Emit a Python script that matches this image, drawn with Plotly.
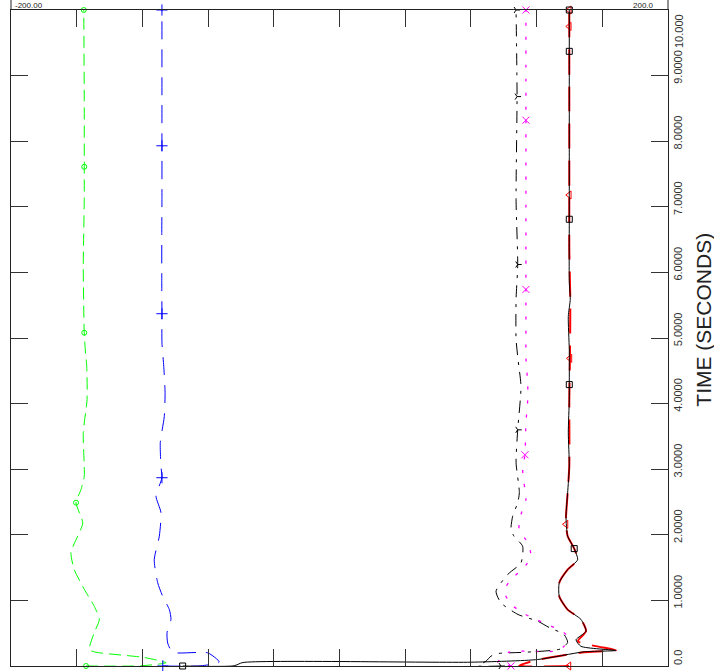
import plotly.graph_objects as go

# ---------------- data (time in seconds, value) ----------------
green_t = [0, 0.003, 0.05, 0.13, 0.21, 0.25, 0.51, 0.71, 0.91, 1.17, 1.47, 1.73, 1.98, 2.18,
           2.49, 2.69, 2.89, 3.04, 3.56, 4.06, 4.57, 4.83, 5.08, 6.09, 7.11, 7.61, 8.64, 10.0]
green_v = [-154.3, -120.9, -105.6, -119.0, -148.3, -152.3, -149.3, -146.2, -149.3, -155.4, -161.5,
           -163.5, -159.4, -156.3, -160.4, -157.4, -155.4, -155.4, -156.0, -153.7, -153.9, -154.8,
           -155.4, -156.0, -155.4, -155.4, -155.4, -155.7]
green_marks = [0, 2.49, 5.08, 7.61, 10.0]

blue_t = [0, 0.003, 0.061, 0.2, 0.21, 0.35, 0.51, 0.71, 0.86, 1.06, 1.27, 1.62, 1.98, 2.34, 2.59,
          2.87, 3.04, 3.41, 3.8, 4.17, 4.57, 4.93, 5.37, 5.85, 6.61, 7.11, 7.93, 8.64, 10.0]
blue_v = [-107.6, -84.3, -73.2, -80.2, -101.6, -104.6, -105.0, -102.6, -103.6, -107.6, -110.7,
          -112.8, -109.7, -108.7, -111.7, -108.1, -108.7, -109.1, -106.7, -106.2, -107.0, -108.1,
          -108.1, -108.2, -108.2, -108.1, -108.1, -108.1, -108.1]
blue_marks = [0, 2.87, 5.37, 7.93, 10.0]

dashdot_t = [0, 0.003, 0.073, 0.15, 0.19, 0.21, 0.262, 0.36, 0.48, 0.587, 0.683, 0.785, 0.963,
             1.14, 1.395, 1.573, 1.826, 1.98, 2.08, 2.28, 2.49, 2.645, 3.1, 3.6, 4.26, 4.67, 4.98,
             5.59, 6.12, 7.11, 8.68, 10.0]
dashdot_v = [98.3, 84.3, 89.2, 92.2, 96.5, 113.5, 134.9, 138.9, 136.7, 127.6, 120.7, 108.7, 98.3,
             95.3, 102.4, 110.5, 111.5, 106.2, 104.4, 105.4, 108.5, 109.5, 107.5, 108.5, 110.5,
             108.7, 107.5, 107.5, 108.5, 107.5, 108.1, 107.5]
dashdot_marks = [0, 3.6, 6.12, 8.68, 10.0]

magenta_t = [0, 0.05, 0.21, 0.226, 0.30, 0.48, 0.61, 0.71, 0.8, 0.94, 1.14, 1.32, 1.5, 1.67, 1.88,
             2.08, 2.31, 2.54, 2.8, 3.0, 3.22, 3.7, 4.06, 4.3, 4.7, 5.0, 5.74, 7.0, 8.32, 10.0]
magenta_v = [104.4, 96.3, 103.2, 130.6, 136.7, 137.9, 128.8, 119.6, 112.3, 104.4, 100.2, 104.4,
             112.3, 116.6, 114.6, 109.3, 110.5, 113.5, 112.3, 111.5, 112.9, 113.5, 114.6, 114.6,
             113.5, 113.5, 113.5, 113.5, 113.5, 113.5]
magenta_marks = [0, 3.22, 5.74, 8.32, 10.0]

red_t = [0, 0.003, 0.088, 0.21, 0.226, 0.241, 0.378, 0.53, 0.71, 0.86, 1.06, 1.27, 1.47, 1.62,
         1.79, 1.98, 2.16, 2.28, 2.64, 3.05, 4.06, 4.69, 5.59, 6.35, 7.18, 8.64, 9.75, 10.0]
red_v = [139.7, 109.3, 119.6, 148.9, 160.2, 168.3, 145.2, 150.1, 147.0, 138.9, 133.8, 133.8, 138.9,
         145.0, 142.9, 138.9, 137.9, 137.9, 138.9, 139.9, 139.9, 140.3, 140.5, 139.9, 139.9, 139.9,
         139.9, 139.9]
red_marks = [0, 2.16, 4.69, 7.18, 9.75, 10.0]

black_t = [0, 0.003, 0.053, 0.058, 0.099, 0.216, 0.236, 0.30, 0.40, 0.53, 0.71, 0.86, 1.06, 1.27,
           1.47, 1.62, 1.79, 1.98, 2.28, 2.64, 3.05, 3.56, 4.06, 4.29, 4.82, 5.33, 5.59, 5.85, 6.81,
           7.87, 9.37, 10.0]
black_v = [-95.5, -64.2, -58.8, 80.1, 120.7, 148.9, 168.3, 147.0, 144.0, 150.1, 147.0, 138.9, 133.8,
           133.8, 138.9, 145.0, 142.9, 138.9, 137.9, 138.9, 139.9, 139.3, 139.9, 139.9, 139.9, 139.3,
           140.5, 139.9, 139.9, 139.9, 139.9, 139.9]
black_marks = [0, 1.79, 4.29, 6.81, 9.37, 10.0]

time_ticks = [0, 1, 2, 3, 4, 5, 6, 7, 8, 9, 10]
time_labels = ["0.0", "1.0000", "2.0000", "3.0000", "4.0000", "5.0000", "6.0000", "7.0000",
               "8.0000", "9.0000", "10.000"]
value_ticks = [-200, -160, -120, -80, -40, 0, 40, 80, 120, 160, 200]

FONT = "Liberation Sans, Arial, Helvetica, sans-serif"

fig = go.Figure()


def add_series(t, v, marks, color, dash, width, symbol, msize):
    fig.add_trace(go.Scatter(x=v, y=t, mode="lines",
                             line=dict(color=color, dash=dash, width=width,
                                       shape="spline", smoothing=0.6),
                             hoverinfo="skip", showlegend=False, cliponaxis=True))
    mx = [vv for tt, vv in zip(t, v) if tt in marks]
    my = [tt for tt in t if tt in marks]
    fig.add_trace(go.Scatter(x=mx, y=my, mode="markers",
                             marker=dict(symbol=symbol, size=msize, color=color,
                                         line=dict(color=color, width=1)),
                             hoverinfo="skip", showlegend=False, cliponaxis=False))


add_series(green_t, green_v, green_marks, "#00ff00", "12px,6px", 1, "circle-open", 5)
add_series(blue_t, blue_v, blue_marks, "#0000ff", "18px,10px", 1, "cross-thin-open", 8)
add_series(dashdot_t, dashdot_v, dashdot_marks, "#000000", "12px,7px,3px,7px", 1, "y-right", 5)
add_series(magenta_t, magenta_v, magenta_marks, "#ff00ff", "3px,11px", 1.3, "x-thin-open", 7)
add_series(red_t, red_v, red_marks, "#ff0000", "25px,12px", 2, "triangle-left-open", 7)
add_series(black_t, black_v, black_marks, "#000000", "solid", 1, "square-open", 6)

# the top tick label is pulled down inside the frame, the others sit just above their ticks
shown_text = [lab if tv != time_ticks[-1] else "" for tv, lab in zip(time_ticks, time_labels)]

fig.update_layout(
    width=714, height=671,
    margin=dict(l=11, r=46, t=10, b=5, autoexpand=False),
    paper_bgcolor="white", plot_bgcolor="white",
    font=dict(family=FONT, color="#333333", size=11),
    showlegend=False,
    xaxis=dict(range=[-200, 200], tickvals=value_ticks, ticks="inside", ticklen=17,
               tickcolor="#333333", showticklabels=False, showline=True, linecolor="#222222",
               linewidth=1, mirror="ticks", showgrid=False, zeroline=False, automargin=False),
    yaxis=dict(range=[0, 10], side="right", tickvals=time_ticks, ticktext=shown_text,
               ticks="inside", ticklen=17, tickcolor="#333333", tickangle=-90,
               ticklabelshift=-7, ticklabelstandoff=0,
               tickfont=dict(size=11, family=FONT, color="#333333"),
               showline=True, linecolor="#222222", linewidth=1, mirror="ticks",
               showgrid=False, zeroline=False, automargin=False),
    annotations=[
        dict(text=time_labels[-1], xref="paper", yref="y", x=1.0, xshift=4, y=time_ticks[-1],
             yshift=-21, textangle=-90, showarrow=False, xanchor="left", yanchor="middle",
             borderpad=0, font=dict(size=11, family=FONT, color="#333333")),
        dict(text="TIME (SECONDS)", xref="paper", yref="paper", x=1.0, xshift=36,
             y=0.528, textangle=-90, showarrow=False, xanchor="center", yanchor="middle",
             font=dict(size=21, family=FONT, color="#222222")),
        dict(text="-200.00", xref="paper", yref="paper", x=0, xshift=3, y=1, yshift=-1,
             showarrow=False, xanchor="left", yanchor="bottom", borderpad=0,
             font=dict(size=8, family=FONT, color="#222222")),
        dict(text="200.0", xref="paper", yref="paper", x=1, xshift=-13, y=1, yshift=-1,
             showarrow=False, xanchor="right", yanchor="bottom", borderpad=0,
             font=dict(size=8, family=FONT, color="#222222")),
    ],
    shapes=[
        dict(type="line", xref="paper", yref="paper", x0=0, x1=0, y0=1, y1=1.03,
             line=dict(color="#222222", width=1)),
        dict(type="line", xref="paper", yref="paper", x0=1, x1=1, y0=1, y1=1.03,
             line=dict(color="#222222", width=1)),
    ],
)

fig.write_html("out.html", config={"displayModeBar": False},
               post_script="document.body.style.margin='0';document.body.style.overflow='hidden';")
